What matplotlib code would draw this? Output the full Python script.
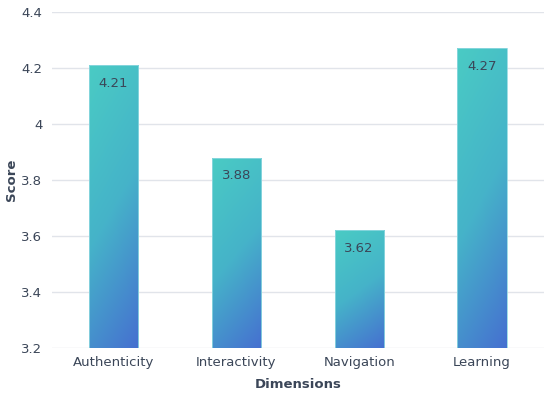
import matplotlib
matplotlib.use("Agg")
import matplotlib.pyplot as plt
import numpy as np
from matplotlib.colors import LinearSegmentedColormap
from matplotlib.patches import Rectangle

categories = ["Authenticity", "Interactivity", "Navigation", "Learning"]
scores = [4.21, 3.88, 3.62, 4.27]
yticks = [3.2, 3.4, 3.6, 3.8, 4.0, 4.2, 4.4]
ytick_labels = ["3.2", "3.4", "3.6", "3.8", "4", "4.2", "4.4"]

text_color = "#3b4658"
grid_color = "#e1e4ea"
cmap = LinearSegmentedColormap.from_list("g", ["#4acbc4", "#45b3c9", "#4670d0"])

fig = plt.figure(figsize=(5.5, 3.97), dpi=100)
ax = fig.add_axes([52 / 550, 1 - 348 / 397, 491.5 / 550, 336 / 397])
ymin, ymax = 3.2, 4.4
ax.set_xlim(-0.5, 3.5)
ax.set_ylim(ymin, ymax)

for s in ax.spines.values():
    s.set_visible(False)
ax.set_yticks(yticks)
ax.set_yticklabels(ytick_labels)
ax.grid(axis="y", color=grid_color, linewidth=1)
ax.set_axisbelow(True)
ax.tick_params(axis="both", length=0, colors=text_color, labelsize=9.5)
ax.tick_params(axis="y", pad=7)
ax.tick_params(axis="x", pad=6)
ax.set_xticks(range(len(categories)))
ax.set_xticklabels(categories)

# gradient image
ny, nx = 100, 30
yy, xx = np.mgrid[0:1:complex(0, ny), 0:1:complex(0, nx)]
grad = 0.85 * yy + 0.25 * xx  # yy=0 top
grad = grad / grad.max()

width = 0.4
for i, v in enumerate(scores):
    x0 = i - width / 2
    rect = Rectangle((x0, ymin), width, v - ymin, facecolor="none",
                     edgecolor="#8fd8e0", linewidth=0.6, zorder=3)
    ax.add_patch(rect)
    im = ax.imshow(grad, cmap=cmap, aspect="auto",
                   extent=(x0, x0 + width, ymin, v), origin="upper",
                   zorder=2, interpolation="bilinear")
    im.set_clip_path(rect)
    ax.annotate(f"{v:.2f}", (i, v), xytext=(0, -13), textcoords="offset points",
                ha="center", va="center", fontsize=9.5, color=text_color, zorder=4)

ax.set_xlim(-0.5, 3.5)
ax.set_ylim(ymin, ymax)
ax.set_xlabel("Dimensions", fontsize=9.5, fontweight="bold", color=text_color, labelpad=6)
ax.set_ylabel("Score", fontsize=9.5, fontweight="bold", color=text_color)
ax.yaxis.set_label_coords(-34 / 491.5, 0.5)

fig.savefig("out.png", dpi=100)
